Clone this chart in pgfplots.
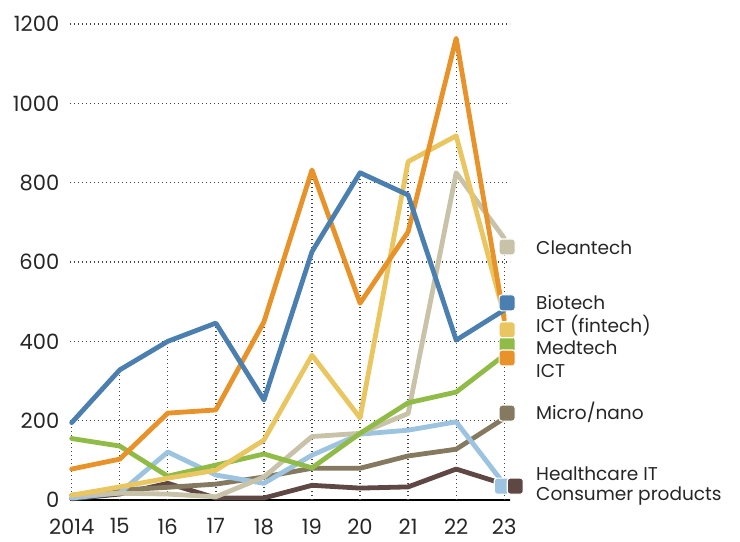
\documentclass[border=0pt]{standalone}
\usepackage{pgfplots}
\pgfplotsset{compat=1.18}
\usetikzlibrary{calc}
\usepackage{fontspec}
\setmainfont{Poppins}
\definecolor{cBio}{HTML}{4A7FB0}
\definecolor{cICT}{HTML}{E8922A}
\definecolor{cFin}{HTML}{E9C660}
\definecolor{cMed}{HTML}{8FBB46}
\definecolor{cHIT}{HTML}{9CC3DF}
\definecolor{cClean}{HTML}{C7C2A8}
\definecolor{cMicro}{HTML}{857A60}
\definecolor{cCons}{HTML}{5F4843}
\definecolor{cGrid}{HTML}{444444}
\begin{document}
\begin{tikzpicture}
\begin{axis}[
  scale only axis,
  width=330pt, height=357pt,
  xmin=2013.965, xmax=2023.12,
  ymin=0, ymax=1200,
  clip=false,
  separate axis lines,
  axis x line*=bottom,
  axis y line*=left,
  x axis line style={-, black, line width=1.6pt},
  y axis line style={draw=none},
  xtick={2014,2015,2016,2017,2018,2019,2020,2021,2022,2023},
  xticklabels={2014,15,16,17,18,19,20,21,22,23},
  ytick={0,200,400,600,800,1000,1200},
  major tick length=0pt,
  ymajorgrids,
  grid style={cGrid, line width=1pt, dash pattern=on 0.9pt off 2.1pt},
  /pgf/number format/assume math mode=true,
  /pgf/number format/1000 sep={},
  tick label style={font=\fontsize{15.8}{17}\selectfont, text=black!85},
  xticklabel style={yshift=-10.5pt},
  yticklabel style={xshift=-4.5pt},
  every axis plot/.append style={line width=3.6pt, line join=round, line cap=round, no marks},
]
% drop lines
\addplot[ycomb, cGrid, line width=1pt, dash pattern=on 0.9pt off 2.1pt, line cap=butt] coordinates {
 (2014,195) (2015,328) (2016,400) (2017,446) (2018,452) (2019,832) (2020,825) (2021,857) (2022,1164) (2023,640)};
% Consumer products
\addplot[cCons] coordinates {
 (2014,3) (2015,15) (2016,42) (2017,5) (2018,5) (2019,37) (2020,30) (2021,33) (2022,78) (2023,40)};
% Micro/nano
\addplot[cMicro] coordinates {
 (2014,12) (2015,25) (2016,32) (2017,40) (2018,58) (2019,80) (2020,80) (2021,111) (2022,128) (2023,206)};
% Healthcare IT
\addplot[cHIT] coordinates {
 (2014,5) (2015,18) (2016,121) (2017,63) (2018,42) (2019,113) (2020,166) (2021,176) (2022,197) (2023,40)};
% Cleantech
\addplot[cClean] coordinates {
 (2014,12) (2015,17) (2016,15) (2017,8) (2018,58) (2019,160) (2020,168) (2021,218) (2022,825) (2023,660)};
% Medtech
\addplot[cMed] coordinates {
 (2014,155) (2015,136) (2016,60) (2017,88) (2018,116) (2019,81) (2020,168) (2021,245) (2022,272) (2023,365)};
% ICT (fintech)
\addplot[cFin] coordinates {
 (2014,12) (2015,33) (2016,55) (2017,75) (2018,151) (2019,365) (2020,207) (2021,853) (2022,918) (2023,465)};
% ICT
\addplot[cICT] coordinates {
 (2014,78) (2015,103) (2016,219) (2017,227) (2018,449) (2019,832) (2020,496) (2021,676) (2022,1164) (2023,455)};
% Biotech
\addplot[cBio] coordinates {
 (2014,195) (2015,328) (2016,400) (2017,446) (2018,252) (2019,626) (2020,825) (2021,769) (2022,403) (2023,479)};
% legend squares
\tikzset{sq/.style={draw=white, line width=0.9pt, rounded corners=2pt, minimum size=12pt, inner sep=0pt}}
\node[sq, fill=cClean] at (axis cs:2023.06,638) {};
\node[sq, fill=cBio] at (axis cs:2023.06,497) {};
\node[sq, fill=cMed] at (axis cs:2023.06,391) {};
\node[sq, fill=cFin] at (axis cs:2023.06,429) {};
\node[sq, fill=cICT] at (axis cs:2023.06,358) {};
\node[sq, fill=cMicro] at (axis cs:2023.06,219) {};
\node[sq, fill=cHIT] at (axis cs:2022.96,35) {};
\node[sq, fill=cCons] at (axis cs:2023.23,35) {};
% legend texts
\tikzset{lt/.style={anchor=base west, inner sep=0pt, font=\fontsize{13.9}{16}\selectfont, text=black!85}}
\node[lt] at (axis cs:2023.66,620) {Cleantech};
\node[lt] at (axis cs:2023.66,481) {Biotech};
\node[lt] at (axis cs:2023.66,423) {ICT (fintech)};
\node[lt] at (axis cs:2023.66,366) {Medtech};
\node[lt] at (axis cs:2023.66,310) {ICT};
\node[lt] at (axis cs:2023.66,202) {Micro/nano};
\node[lt] at (axis cs:2023.66,50) {Healthcare IT};
\node[lt] at (axis cs:2023.66,-2) {Consumer products};
\coordinate (SW) at (rel axis cs:0,0);
\end{axis}
\useasboundingbox ($(SW)+(-52.5pt,-31.5pt)$) rectangle ++(555pt,406.5pt);
\end{tikzpicture}
\end{document}
